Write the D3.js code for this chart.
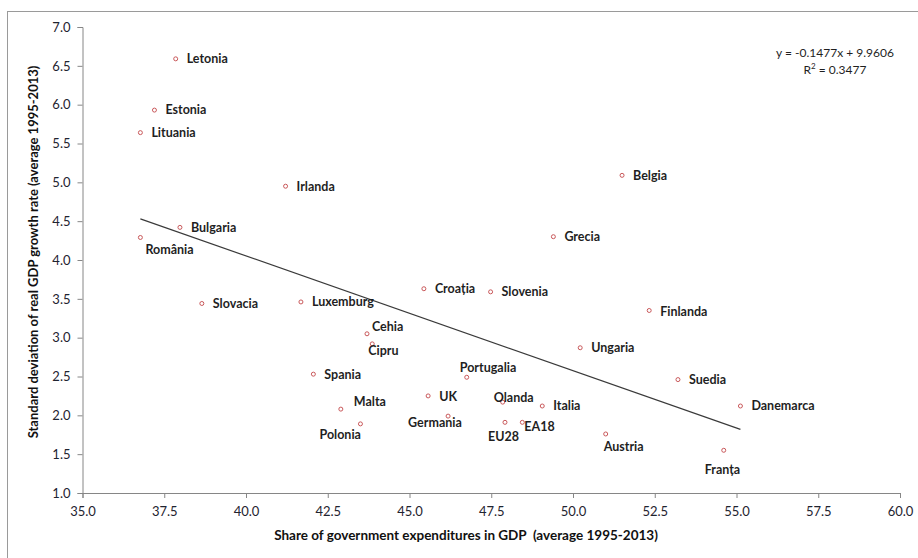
<!DOCTYPE html>
<html>
<head>
<meta charset="utf-8">
<script src="https://cdn.jsdelivr.net/npm/d3@7/dist/d3.min.js"></script>
<style>
  body { margin: 0; background: #fff; }
  svg { display: block; font-family: Lato, "Open Sans", sans-serif; }
</style>
</head>
<body>
<div id="chart"></div>
<script>
// data
const countries = ["Letonia", "Estonia", "Lituania", "Irlanda", "Bulgaria", "România", "Slovacia",
    "Luxemburg", "Croația", "Slovenia", "Cehia", "Cipru", "Spania", "Portugalia", "UK", "Olanda",
    "Italia", "Malta", "Germania", "Polonia", "EU28", "EA18", "Belgia", "Grecia", "Finlanda",
    "Ungaria", "Suedia", "Danemarca", "Austria", "Franța"];
const govShare = [37.85, 37.20, 36.77, 41.21, 37.98, 36.77, 38.65,
    41.68, 45.44, 47.48, 43.70, 43.86, 42.06, 46.75, 45.57, 47.85,
    49.06, 42.90, 46.18, 43.50, 47.92, 48.45, 51.50, 49.40, 52.33,
    50.22, 53.21, 55.12, 51.00, 54.61];
const gdpStdDev = [6.59, 5.93, 5.64, 4.95, 4.42, 4.29, 3.44,
    3.46, 3.63, 3.59, 3.05, 2.92, 2.53, 2.49, 2.25, 2.17,
    2.12, 2.08, 1.99, 1.89, 1.91, 1.91, 5.09, 4.30, 3.35,
    2.87, 2.46, 2.12, 1.76, 1.55];
const xTicks = [35, 37.5, 40, 42.5, 45, 47.5, 50, 52.5, 55, 57.5, 60];
const yTicks = [1, 1.5, 2, 2.5, 3, 3.5, 4, 4.5, 5, 5.5, 6, 6.5, 7];
const trendSlope = -0.1477;
const trendIntercept = 9.9606;
const rSquared = 0.3477;

const points = countries.map((c, i) => ({name: c, x: govShare[i], y: gdpStdDev[i]}));

const width = 918, height = 558;
const margin = {top: 27, right: 18, bottom: 65, left: 82.5};

const svg = d3.select("#chart").append("svg")
    .attr("width", width)
    .attr("height", height);

// outer frame (only top and left edges fall inside the picture)
svg.append("rect")
    .attr("x", 7.5).attr("y", 11.5)
    .attr("width", width + 20).attr("height", height + 20)
    .attr("fill", "none")
    .attr("stroke", "#9a9a9a");

const x = d3.scaleLinear().domain([35, 60]).range([margin.left, width - margin.right]);
const y = d3.scaleLinear().domain([1, 7]).range([height - margin.bottom, margin.top]);

const xAxis = svg.append("g")
    .attr("transform", "translate(0," + y(1) + ")")
    .call(d3.axisBottom(x).tickValues(xTicks).tickFormat(d3.format(".1f")).tickSize(5).tickPadding(9));
const yAxis = svg.append("g")
    .attr("transform", "translate(" + x(35) + ",0)")
    .call(d3.axisLeft(y).tickValues(yTicks).tickFormat(d3.format(".1f")).tickSize(5).tickPadding(7));

[xAxis, yAxis].forEach(g => {
    g.select(".domain").attr("stroke", "#868686");
    g.selectAll(".tick line").attr("stroke", "#868686");
    g.selectAll(".tick text")
        .attr("fill", "#1f2430")
        .style("font-size", "13px")
        .style("font-family", "Lato, sans-serif");
});

// trend line over the data range
const xMin = d3.min(govShare), xMax = d3.max(govShare);
svg.append("line")
    .attr("x1", x(xMin)).attr("y1", y(trendSlope * xMin + trendIntercept))
    .attr("x2", x(xMax)).attr("y2", y(trendSlope * xMax + trendIntercept))
    .attr("stroke", "#3a3a3a")
    .attr("stroke-width", 1.2);

// points
svg.selectAll(".dot")
    .data(points)
    .enter().append("circle")
    .attr("class", "dot")
    .attr("cx", d => x(d.x))
    .attr("cy", d => y(d.y))
    .attr("r", 2)
    .attr("fill", "#fff")
    .attr("stroke", "#c9585a")
    .attr("stroke-width", 1);

// label offsets in pixels from each dot
const labelOffset = {
    "România": [5, 12], "Cehia": [5, -7], "Cipru": [-4, 7], "Portugalia": [-7, -10],
    "Olanda": [-9, -5], "Malta": [13, -7], "Germania": [-40, 7], "Polonia": [-41, 11],
    "EU28": [-17, 14], "EA18": [2, 4], "Austria": [-2, 13], "Franța": [-19, 19],
    "UK": [11, 1], "Finlanda": [11, 1]
};

svg.selectAll(".label")
    .data(points)
    .enter().append("text")
    .attr("class", "label")
    .attr("x", d => x(d.x) + (labelOffset[d.name] ? labelOffset[d.name][0] : 11))
    .attr("y", d => y(d.y) + (labelOffset[d.name] ? labelOffset[d.name][1] : 0))
    .attr("dy", "0.35em")
    .attr("fill", "#1f1f1f")
    .style("font-size", "12.5px")
    .style("font-weight", "bold")
    .text(d => d.name);

// regression equation
const eq = svg.append("text")
    .attr("x", 835)
    .attr("y", 53)
    .attr("text-anchor", "middle")
    .attr("fill", "#1f1f1f")
    .style("font-size", "12px");
eq.append("tspan").attr("x", 835).attr("dy", "0.35em")
    .text("y = " + trendSlope + "x + " + trendIntercept);
const r2 = eq.append("tspan").attr("x", 835).attr("dy", "17");
r2.append("tspan").text("R");
r2.append("tspan").attr("dy", "-5").style("font-size", "8px").text("2");
r2.append("tspan").attr("dy", "5").text(" = " + rSquared);

// axis titles
svg.append("text")
    .attr("transform", "translate(33," + 252 + ") rotate(-90)")
    .attr("text-anchor", "middle")
    .attr("dy", "0.35em")
    .attr("fill", "#111")
    .style("font-size", "13px")
    .style("font-weight", "bold")
    .text("Standard deviation of real GDP growth rate (average 1995-2013)");

svg.append("text")
    .attr("x", 466)
    .attr("y", 535)
    .attr("text-anchor", "middle")
    .attr("dy", "0.35em")
    .attr("fill", "#111")
    .style("font-size", "13.5px")
    .style("font-weight", "bold")
    .style("white-space", "pre")
    .text("Share of government expenditures in GDP  (average 1995-2013)");
</script>
</body>
</html>
